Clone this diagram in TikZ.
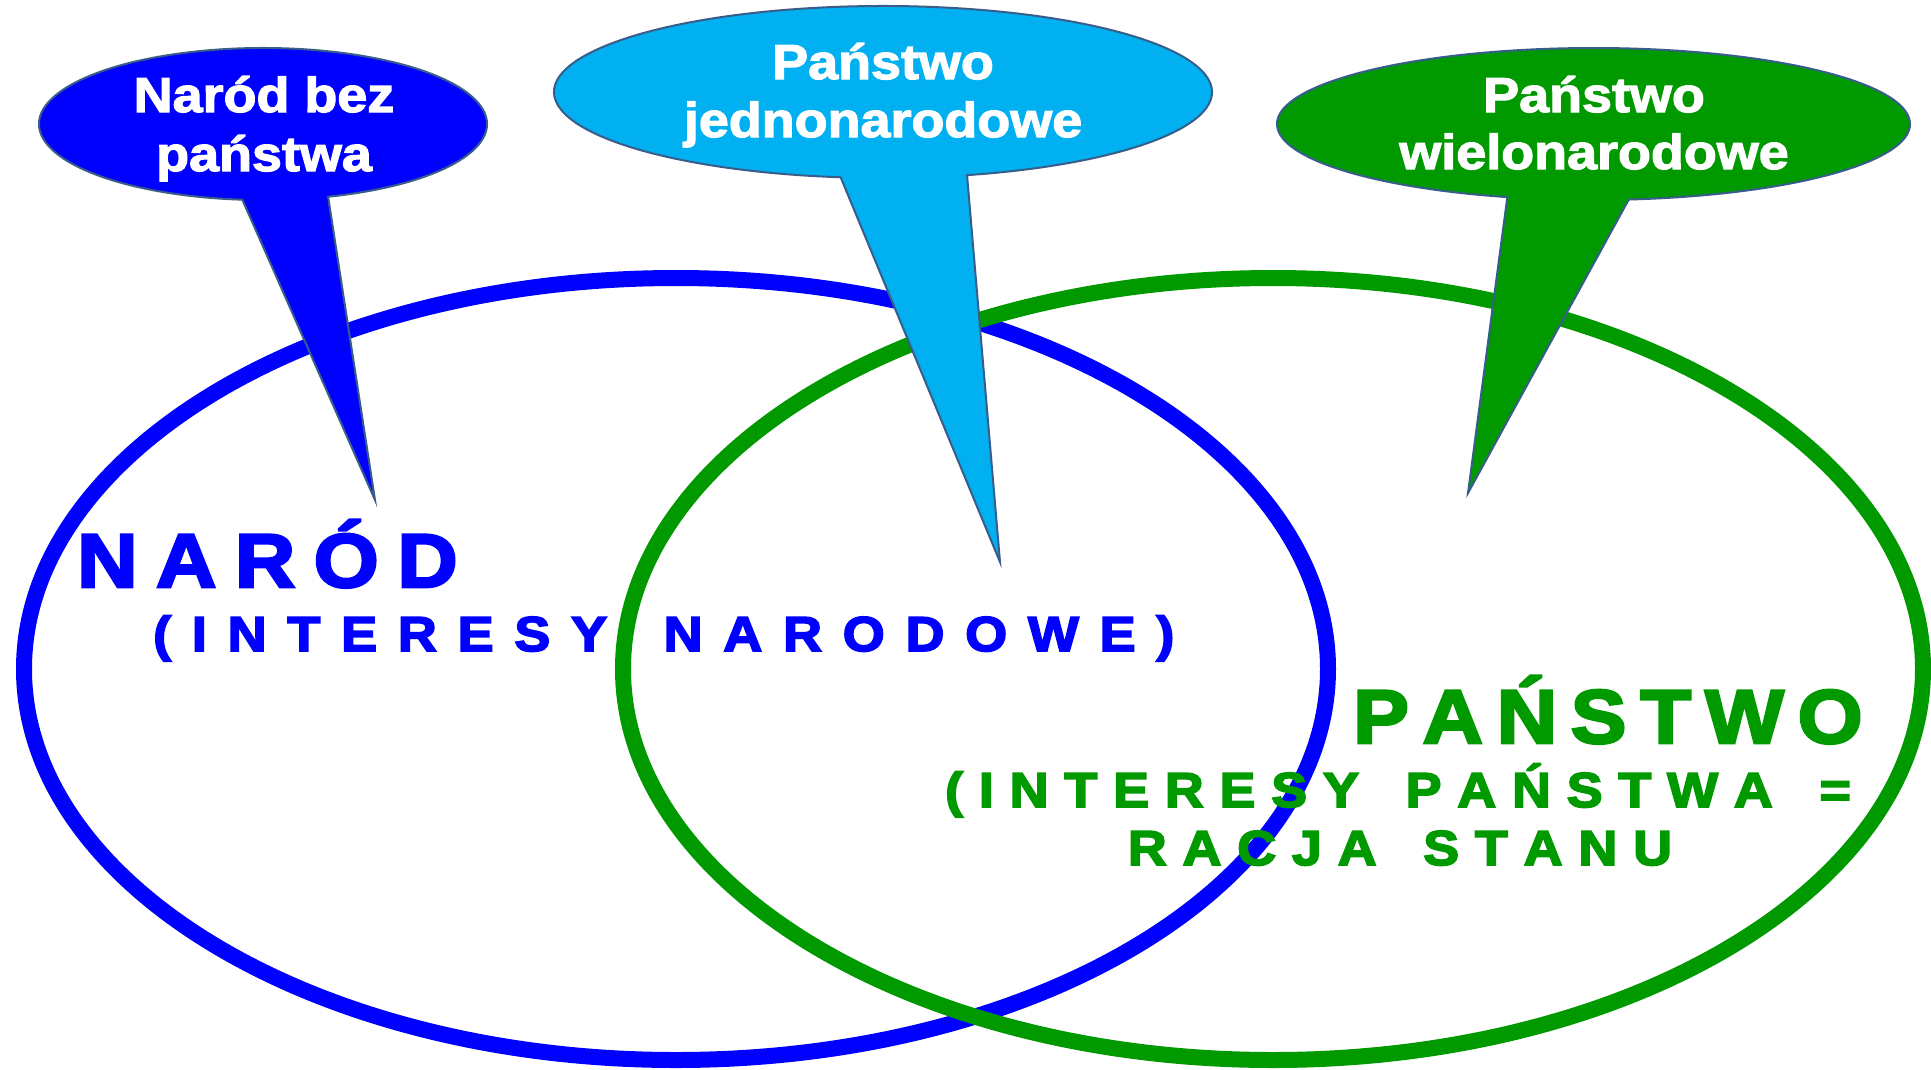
\documentclass[tikz,border=0pt]{standalone}
\usepackage{fontspec}
\setmainfont{Liberation Sans}
\newfontfamily\stf[FakeStretch=1.1,FakeBold=3.5]{Liberation Sans Bold}
\newfontfamily\stfc[FakeStretch=1.1,FakeBold=2.5]{Liberation Sans Bold}
\definecolor{cblue}{RGB}{0,0,255}
\definecolor{cgreen}{RGB}{0,153,0}
\definecolor{clight}{RGB}{0,176,240}
\definecolor{cedge}{RGB}{56,93,138}
\newlength\lsp
\def\spaced#1{\spacedA#1\relax}
\def\spacedA#1#2{#1\ifx\relax#2\else\kern\lsp\expandafter\spacedA\expandafter#2\fi}
\def\wsp{\kern\lsp\ \kern\lsp}
\tikzset{
  bigring/.style={line width=16pt},
  callout/.style={draw=cedge, line width=2pt},
  ctext/.style={inner sep=0pt, anchor=base, text=white, font=\stfc\fontsize{49}{58}\selectfont},
  title/.style={inner sep=0pt, font=\stf\fontsize{76}{80}\selectfont},
  subtitle/.style={inner sep=0pt, font=\stf\fontsize{49}{58}\selectfont},
}
\begin{document}
\begin{tikzpicture}[x=1pt,y=-1pt]
\useasboundingbox (0,0) rectangle (1931,1069);
\fill[white] (0,0) rectangle (1931,1069);
% main ellipses
\coordinate (cn) at (676,669);
\coordinate (cp) at (1273,669);
\draw[bigring, cblue] (cn) ellipse[x radius=652, y radius=391];
\draw[bigring, cgreen] (cp) ellipse[x radius=650, y radius=391];
% callout centres and tips
\coordinate (c1) at (263,124);
\coordinate (t1) at (375,500);
\coordinate (c2) at (883,92);
\coordinate (t2) at (1000,562);
\coordinate (c3) at (1593.5,124);
\coordinate (t3) at (1468,493);
\draw[callout, fill=cblue] (c1) ++({224*cos(73.1)},{76*sin(73.1)})
  arc[start angle=73.1, end angle=-264.7, x radius=224, y radius=76] -- (t1) -- cycle;
\draw[callout, fill=clight] (c2) ++({329*cos(75.2)},{86*sin(75.2)})
  arc[start angle=75.2, end angle=-262.6, x radius=329, y radius=86] -- (t2) -- cycle;
\draw[callout, fill=cgreen] (c3) ++({316.5*cos(83.6)},{76*sin(83.6)})
  arc[start angle=83.6, end angle=-254.2, x radius=316.5, y radius=76] -- (t3) -- cycle;
% callout texts
\node[ctext] (c1a) at (264,112) {Naród bez};
\node[ctext] (c1b) at (264,171) {państwa};
\node[ctext] (c2a) at (883,79) {Państwo};
\node[ctext] (c2b) at (883,137) {jednonarodowe};
\node[ctext] (c3a) at (1594,112) {Państwo};
\node[ctext] (c3b) at (1594,169) {wielonarodowe};
% titles
\node[title, anchor=base west, text=cblue] (narod) at (77,587) {\setlength\lsp{18.5pt}\spaced{NARÓD}};
\node[subtitle, anchor=base west, text=cblue] (narodsub) at (153,651) {\setlength\lsp{20.8pt}\spaced{(INTERESY}\wsp\spaced{NARODOWE)}};
\node[title, anchor=base west, text=cgreen] (panstwo) at (1353,743) {\setlength\lsp{13.7pt}\spaced{PAŃSTWO}};
\node[subtitle, anchor=base, text=cgreen] (pansub1) at (1398,807) {\setlength\lsp{15.8pt}\spaced{(INTERESY}\wsp\spaced{PAŃSTWA}\wsp\spaced{=}};
\node[subtitle, anchor=base, text=cgreen] (pansub2) at (1400,865) {\setlength\lsp{15.8pt}\spaced{RACJA}\wsp\spaced{STANU}};
\end{tikzpicture}
\end{document}
